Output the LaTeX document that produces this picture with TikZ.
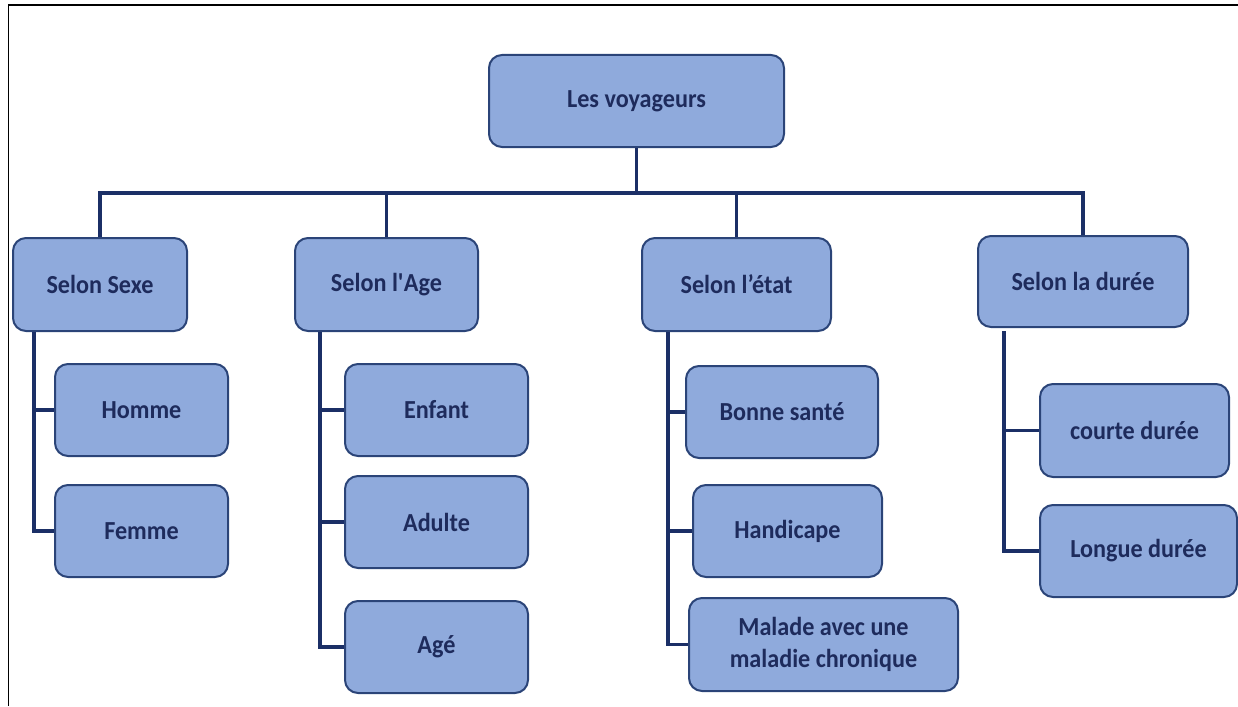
\documentclass[tikz,border=0pt]{standalone}
\usepackage{fontspec}
\setmainfont{Carlito}[FakeStretch=0.93]
% straight apostrophe, set as a glyph so no text mapping curls it
\newcommand{\straightquote}{\XeTeXglyph\XeTeXcharglyph"27\relax}
\begin{document}
\definecolor{boxfill}{HTML}{8FAADC}
\definecolor{boxline}{HTML}{2B4478}
\definecolor{linkline}{HTML}{1B2F66}
\definecolor{boxtext}{HTML}{1E2B5C}
\begin{tikzpicture}[x=1pt,y=-1pt,
  box/.style={draw=boxline, line width=2pt, fill=boxfill, rounded corners=13pt,
    inner sep=0pt, text=boxtext, align=center,
    font=\fontsize{26}{32}\selectfont\bfseries},
  link/.style={draw=linkline, line width=3.2pt}]
\useasboundingbox (0,0) rectangle (1238,706);
% page frame
\draw[line width=1.5pt, black] (8.5,706) -- (8.5,5) -- (1238,5);

% root
\node[box, minimum width=295pt, minimum height=92pt] (root) at (636.5,101) {Les voyageurs};

% categories
\node[box, minimum width=174pt, minimum height=93pt] (sexe)  at (100,284.5)  {Selon Sexe};
\node[box, minimum width=183pt, minimum height=93pt] (age)   at (386.5,284.5) {Selon l\straightquote Age};
\node[box, minimum width=189pt, minimum height=93pt] (etat)  at (736.5,284.5) {Selon l’état};
\node[box, minimum width=210pt, minimum height=91pt] (duree) at (1083,281.5)  {Selon la durée};

% leaves
\node[box, minimum width=173pt, minimum height=92pt] (homme)  at (141.5,410) {Homme};
\node[box, minimum width=173pt, minimum height=92pt] (femme)  at (141.5,531) {Femme};
\node[box, minimum width=183pt, minimum height=92pt] (enfant) at (436.5,410) {Enfant};
\node[box, minimum width=183pt, minimum height=92pt] (adulte) at (436.5,522) {Adulte};
\node[box, minimum width=183pt, minimum height=92pt] (vieux)  at (436.5,647) {Agé};
\node[box, minimum width=192pt, minimum height=92pt] (bonne)  at (782,412)   {Bonne santé};
\node[box, minimum width=189pt, minimum height=92pt] (handi)  at (787.5,531) {Handicape};
\node[box, minimum width=269pt, minimum height=93pt] (malade) at (823.5,644.5) {Malade avec une\\maladie chronique};
\node[box, minimum width=189pt, minimum height=93pt] (courte) at (1134.5,430.5) {courte durée};
\node[box, minimum width=197pt, minimum height=92pt] (longue) at (1138.5,551)   {Longue durée};

% top-level bus
\coordinate (bus) at (634,193);
\draw[link] (root.south) -- (root.south |- bus);
\draw[link] (sexe.north) |- (bus) -| (duree.north);
\draw[link] (age.north |- bus) -- (age.north);
\draw[link] (etat.north |- bus) -- (etat.north);

% trunks under each category
\coordinate (sexeT)  at ([xshift=22pt]sexe.south west);
\coordinate (ageT)   at ([xshift=26pt]age.south west);
\coordinate (etatT)  at ([xshift=27pt]etat.south west);
\coordinate (dureeT) at ([xshift=27pt,yshift=-3pt]duree.south west);

\draw[link] (sexeT) |- (femme.west);
\draw[link] (sexeT |- homme.west) -- (homme.west);

\draw[link] (ageT) |- (vieux.west);
\draw[link] (ageT |- enfant.west) -- (enfant.west);
\draw[link] (ageT |- adulte.west) -- (adulte.west);

\draw[link] (etatT) |- (malade.west);
\draw[link] (etatT |- bonne.west) -- (bonne.west);
\draw[link] (etatT |- handi.west) -- (handi.west);

\draw[link] (dureeT) |- (longue.west);
\draw[link] (dureeT |- courte.west) -- (courte.west);
\end{tikzpicture}
\end{document}
